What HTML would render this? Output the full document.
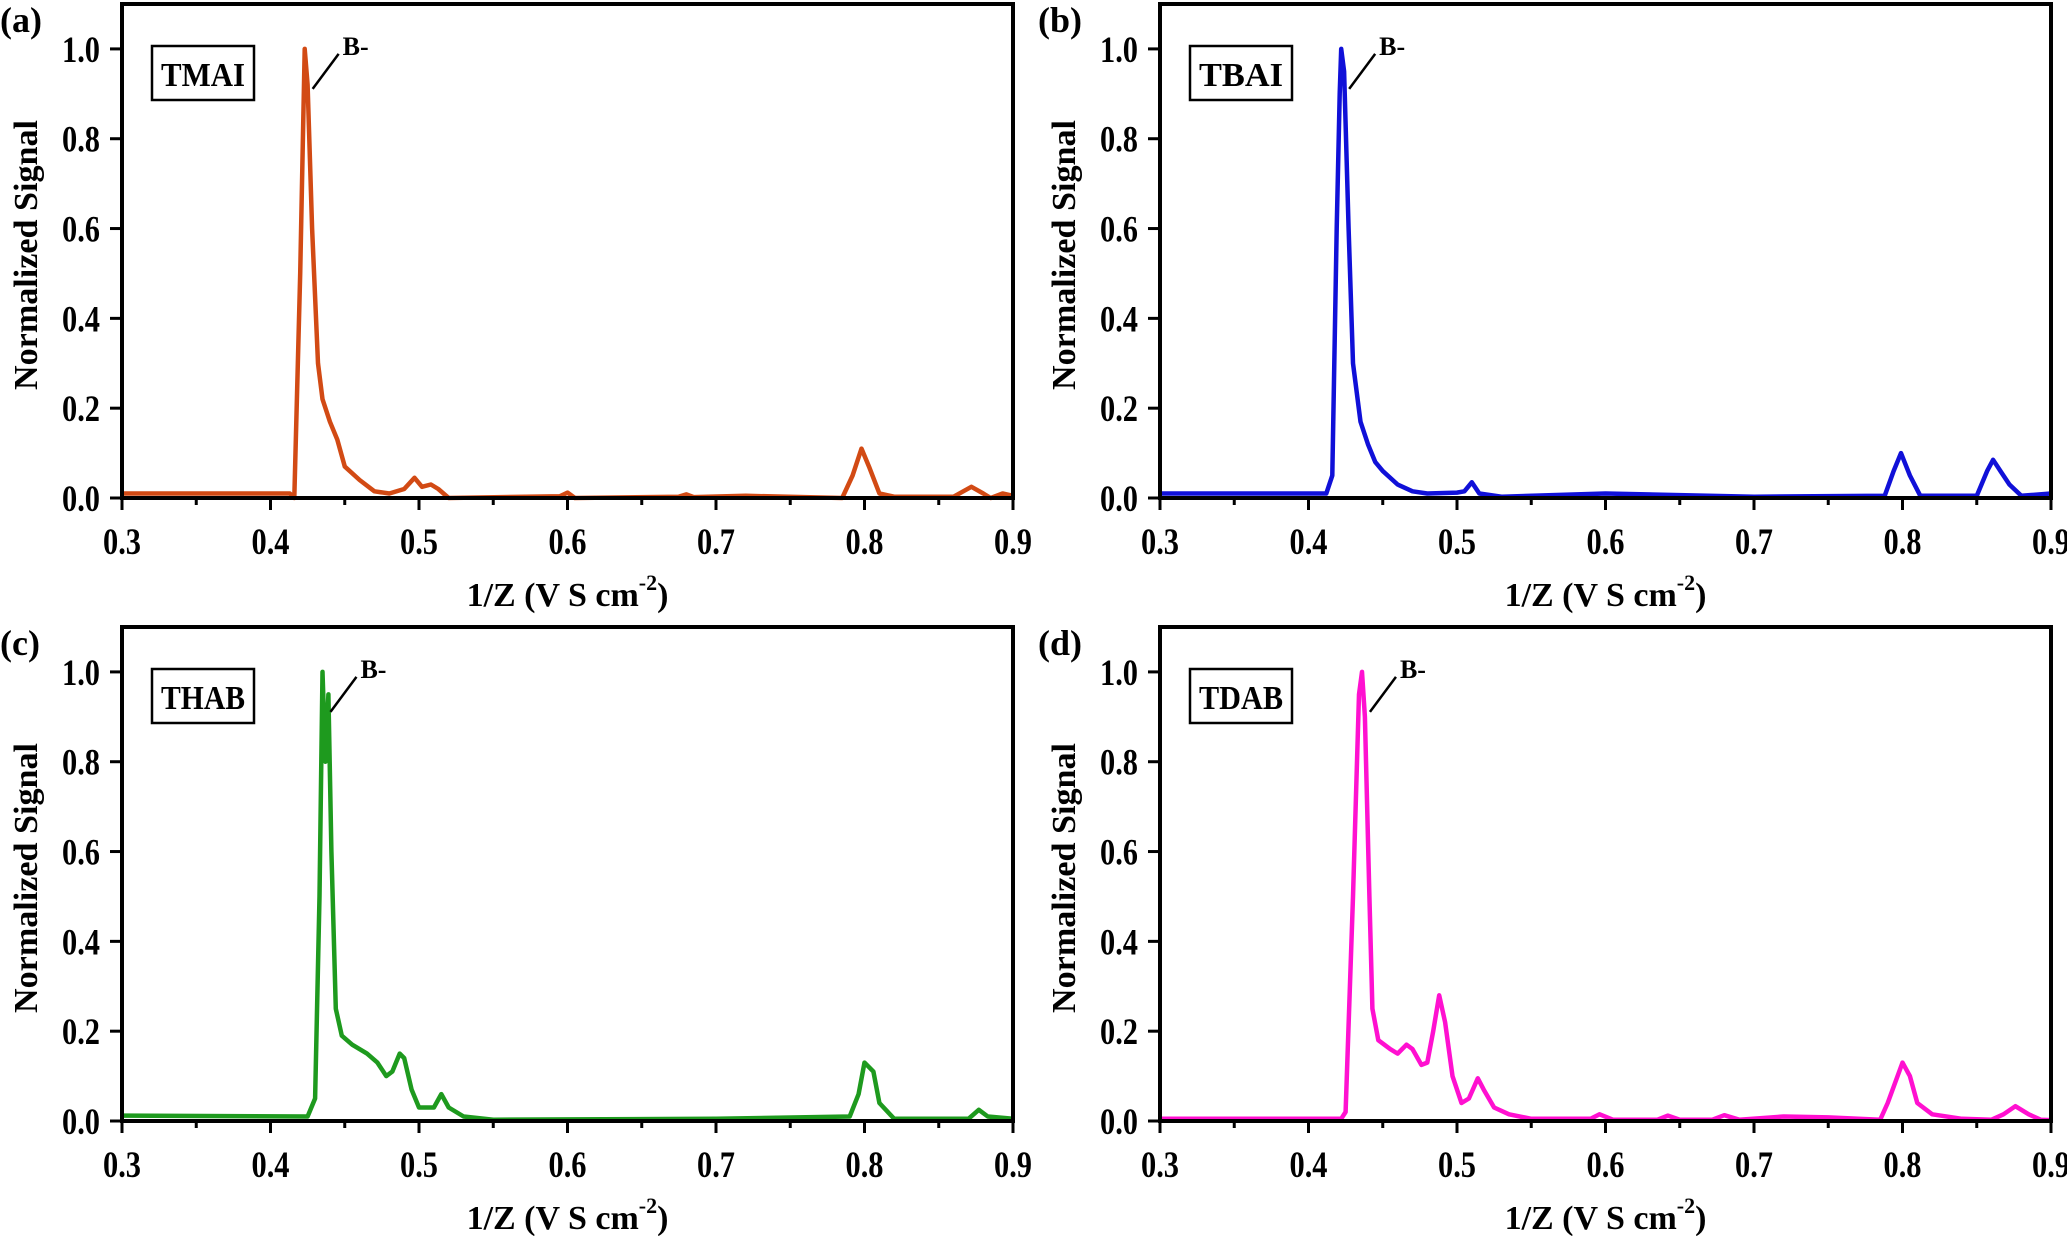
<!DOCTYPE html>
<html><head><meta charset="utf-8">
<style>
html,body{margin:0;padding:0;background:#fff;}
svg{display:block;font-family:"Liberation Serif",serif;font-weight:bold;}
</style></head>
<body>
<svg id="fig" width="2067" height="1236" viewBox="0 0 2067 1236" xmlns="http://www.w3.org/2000/svg"></svg>
<script>
// x-axis ticks and y-axis ticks
const xTicks = [0.3,0.4,0.5,0.6,0.7,0.8,0.9];
const xTickLabels = ["0.3","0.4","0.5","0.6","0.7","0.8","0.9"];
const yTicks = [0,0.2,0.4,0.6,0.8,1.0];
const yTickLabels = ["0.0","0.2","0.4","0.6","0.8","1.0"];

// Panel (a) TMAI
const tmaiX = [0.30,0.413,0.416,0.420,0.423,0.425,0.428,0.432,0.435,0.44,0.445,0.45,0.46,0.47,0.48,0.49,0.497,0.502,0.508,0.513,0.52,0.595,0.600,0.605,0.675,0.68,0.685,0.72,0.785,0.792,0.798,0.803,0.81,0.82,0.86,0.872,0.88,0.885,0.893,0.90];
const tmaiY = [0.01,0.01,0.0,0.5,1.0,0.92,0.6,0.30,0.22,0.17,0.13,0.07,0.04,0.015,0.01,0.02,0.045,0.025,0.03,0.02,0.0,0.004,0.012,0.0,0.003,0.008,0.002,0.005,0.0,0.05,0.11,0.07,0.01,0.003,0.003,0.025,0.01,0.0,0.01,0.005];
// Panel (b) TBAI
const tbaiX = [0.30,0.412,0.416,0.419,0.421,0.422,0.424,0.427,0.43,0.435,0.44,0.445,0.45,0.46,0.47,0.48,0.50,0.505,0.51,0.515,0.53,0.60,0.70,0.788,0.794,0.799,0.805,0.812,0.85,0.857,0.861,0.866,0.872,0.88,0.90];
const tbaiY = [0.01,0.01,0.05,0.6,0.9,1.0,0.95,0.6,0.3,0.17,0.12,0.08,0.06,0.03,0.015,0.01,0.012,0.015,0.035,0.01,0.003,0.01,0.003,0.005,0.06,0.1,0.05,0.005,0.005,0.06,0.085,0.06,0.03,0.005,0.01];
// Panel (c) THAB
const thabX = [0.30,0.425,0.43,0.433,0.435,0.437,0.439,0.441,0.444,0.448,0.455,0.465,0.472,0.478,0.482,0.487,0.49,0.495,0.50,0.51,0.515,0.52,0.53,0.55,0.70,0.79,0.796,0.80,0.806,0.81,0.82,0.87,0.877,0.883,0.90];
const thabY = [0.012,0.01,0.05,0.5,1.0,0.8,0.95,0.6,0.25,0.19,0.17,0.15,0.13,0.1,0.11,0.15,0.14,0.07,0.03,0.03,0.06,0.03,0.01,0.003,0.005,0.01,0.06,0.13,0.11,0.04,0.005,0.005,0.025,0.01,0.005];
// Panel (d) TDAB
const tdabX = [0.30,0.422,0.425,0.43,0.434,0.436,0.438,0.441,0.443,0.447,0.455,0.46,0.466,0.47,0.476,0.48,0.484,0.488,0.492,0.497,0.503,0.508,0.514,0.518,0.525,0.535,0.55,0.59,0.596,0.605,0.635,0.642,0.65,0.672,0.68,0.69,0.72,0.75,0.785,0.79,0.80,0.805,0.81,0.82,0.84,0.86,0.868,0.876,0.885,0.893,0.90];
const tdabY = [0.005,0.005,0.02,0.5,0.95,1.0,0.9,0.5,0.25,0.18,0.16,0.15,0.17,0.16,0.125,0.13,0.2,0.28,0.22,0.1,0.04,0.05,0.095,0.07,0.03,0.015,0.005,0.005,0.015,0.003,0.003,0.012,0.003,0.003,0.013,0.003,0.01,0.008,0.003,0.04,0.13,0.1,0.04,0.015,0.005,0.003,0.015,0.033,0.015,0.003,0.002];

const panels = [
  {id:"a", name:"TMAI", xs:tmaiX, ys:tmaiY, color:"#d24a14", L:122, R:1013, T:4, B:498},
  {id:"b", name:"TBAI", xs:tbaiX, ys:tbaiY, color:"#1010d8", L:1160, R:2051, T:4, B:498},
  {id:"c", name:"THAB", xs:thabX, ys:thabY, color:"#1e9a1e", L:122, R:1013, T:627, B:1121},
  {id:"d", name:"TDAB", xs:tdabX, ys:tdabY, color:"#ff10d0", L:1160, R:2051, T:627, B:1121}
];
const NS = "http://www.w3.org/2000/svg";
const svg = document.getElementById("fig");
function mk(tag, attrs, parent, text){
  const e = document.createElementNS(NS, tag);
  for (const k in attrs) e.setAttribute(k, attrs[k]);
  if (text !== undefined) e.textContent = text;
  (parent||svg).appendChild(e);
  return e;
}
panels.forEach(p => {
  const g = mk("g", {});
  
  
  const sx = v => p.L + (v - 0.3) / 0.6 * (p.R - p.L);
  const sy = v => p.B - v / 1.1 * (p.B - p.T);
  // series
  let d = "";
  p.xs.forEach((x, i) => { d += (i ? "L" : "M") + sx(x).toFixed(1) + "," + sy(p.ys[i]).toFixed(1); });
  const line = mk("path", {d:d, fill:"none", stroke:p.color, "stroke-width":4.5, "stroke-linejoin":"round"}, g);
  
  
  // frame
  const fr = mk("rect", {x:p.L, y:p.T, width:p.R-p.L, height:p.B-p.T, fill:"none", stroke:"#000", "stroke-width":4}, g);
  
  
  // x ticks
  xTicks.forEach((t, i) => {
    mk("line", {x1:sx(t), x2:sx(t), y1:p.B, y2:p.B+12, stroke:"#000", "stroke-width":3}, g);
    if (i < xTicks.length - 1) mk("line", {x1:sx(t+0.05), x2:sx(t+0.05), y1:p.B, y2:p.B+7, stroke:"#000", "stroke-width":3}, g);
    const tl = mk("text", {x:0, y:0, "font-size":32, "text-anchor":"middle", transform:"translate(" + sx(t) + "," + (p.B+56) + ") scale(0.95,1.15)"}, g, xTickLabels[i]);
    
    
  });
  // y ticks
  yTicks.forEach((t, i) => {
    mk("line", {x1:p.L-12, x2:p.L, y1:sy(t), y2:sy(t), stroke:"#000", "stroke-width":3}, g);
    const tl = mk("text", {x:0, y:0, "font-size":32, "text-anchor":"end", transform:"translate(" + (p.L-22) + "," + (sy(t)+13) + ") scale(0.95,1.15)"}, g, yTickLabels[i]);
    
    
  });
  // axis titles
  const yt = mk("text", {x:0, y:0, "font-size":34, "text-anchor":"middle", textLength:270, lengthAdjust:"spacingAndGlyphs", transform:"translate(" + (p.L-85) + "," + ((p.T+p.B)/2+4) + ") rotate(-90)"}, g, "Normalized Signal");
  
  
  const xt = mk("text", {x:(p.L+p.R)/2, y:p.B+108, "font-size":34, "text-anchor":"middle"}, g);
  
  
  mk("tspan", {}, xt, "1/Z (V S cm");
  mk("tspan", {dy:-16, "font-size":22}, xt, "-2");
  mk("tspan", {dy:16}, xt, ")");
  // panel letter
  const pl = mk("text", {x:p.L-122, y:p.T+28, "font-size":36}, g, "(" + p.id + ")");
  
  
  // sample box
  const bx = mk("rect", {x:p.L+30, y:p.T+42, width:102, height:54, fill:"#fff", stroke:"#000", "stroke-width":2.5}, g);
  
  
  const bt = mk("text", {x:p.L+81, y:p.T+82, "font-size":34, "text-anchor":"middle", textLength:84, lengthAdjust:"spacingAndGlyphs"}, g, p.name);
  
  
  // B- annotation relative to main peak
  let mi = 0; p.ys.forEach((v, i) => { if (v > p.ys[mi]) mi = i; });
  const px = sx(p.xs[mi]), py = sy(p.ys[mi]);
  const an = mk("line", {x1:px+8, y1:py+40, x2:px+34, y2:py+5, stroke:"#000", "stroke-width":2.5}, g);
  
  
  const at = mk("text", {x:px+38, y:py+6, "font-size":26}, g, "B-");
  
  
});
</script>
</body></html>
